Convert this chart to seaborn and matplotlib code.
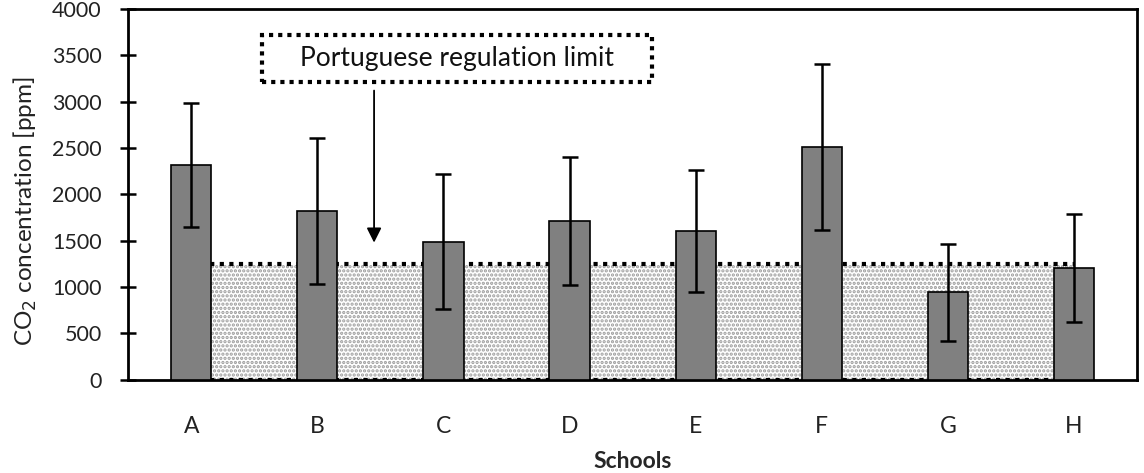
import numpy as np
import pandas as pd
import seaborn as sns
import matplotlib.pyplot as plt

# values
schools = ["A", "B", "C", "D", "E", "F", "G", "H"]
co2_mean = [2318, 1820, 1488, 1712, 1605, 2510, 942, 1206]
co2_std = [665, 785, 728, 688, 653, 895, 521, 580]
limit = 1250
yticks = [0, 500, 1000, 1500, 2000, 2500, 3000, 3500, 4000]

sns.set_theme(style="white")
plt.rcParams['font.family'] = ['Lato', 'DejaVu Sans']
plt.rcParams['hatch.linewidth'] = 1.6

df = pd.DataFrame({"school": schools, "co2": co2_mean, "sd": co2_std})

fig = plt.figure(figsize=(11.44, 4.73), dpi=100)
ax = fig.add_axes([0.112, 0.197, 0.882, 0.784])

# shaded band for the regulation limit, from first to last school
xs = np.arange(len(schools))
ax.fill_between([xs[0], xs[-1]], 0, limit, facecolor="white",
                edgecolor="#9c9c9c", hatch="....", linewidth=0, zorder=1)
ax.plot([xs[0], xs[-1]], [limit, limit], color="black", lw=3,
        linestyle=(0, (1, 1.3)), zorder=1.5)
ax.plot([xs[0], xs[-1]], [0, 0], color="black", lw=3,
        linestyle=(0, (1, 1.3)), zorder=1.5)

sns.barplot(data=df, x="school", y="co2", color="#808080", width=0.32,
            edgecolor="black", linewidth=1.2, saturation=1, errorbar=None,
            ax=ax, zorder=3)
ax.errorbar(xs, df["co2"], yerr=df["sd"], fmt="none", ecolor="black",
            elinewidth=1.8, capsize=6, capthick=1.8, zorder=4)

ax.set_xlim(-0.5, 7.5)
ax.set_ylim(0, 4000)
ax.set_yticks(yticks)
ax.set_yticklabels([str(v) for v in yticks], fontsize=15.5, color="#222222")
ax.tick_params(axis="x", length=0, pad=26, labelsize=16.5, labelcolor="#222222")
ax.tick_params(axis="y", direction="inout", length=12, width=1.8, pad=13,
               left=True, color="black")
for s in ax.spines.values():
    s.set_color("black")
    s.set_linewidth(2)

ax.set_xlabel("Schools", fontsize=16.5, fontweight="bold", labelpad=10)
ax.set_ylabel("CO$_2$ concentration [ppm]", fontsize=17.5, color="#222222")
ax.yaxis.set_label_coords(-0.088, 0.455)

# annotation box and arrow
ax.annotate("", xy=(1.45, 1450), xytext=(1.45, 3150),
            arrowprops=dict(arrowstyle="-|>", color="black", lw=1.3,
                            mutation_scale=22), zorder=5)
ax.text(2.11, 3468, "    Portuguese regulation limit    ", fontsize=19,
        ha="center", va="center", color="#111111", zorder=6,
        bbox=dict(boxstyle="square,pad=0.42", facecolor="white",
                  edgecolor="black", linewidth=3, linestyle=(0, (1, 1.2))))

fig.savefig("out.png", dpi=100)
